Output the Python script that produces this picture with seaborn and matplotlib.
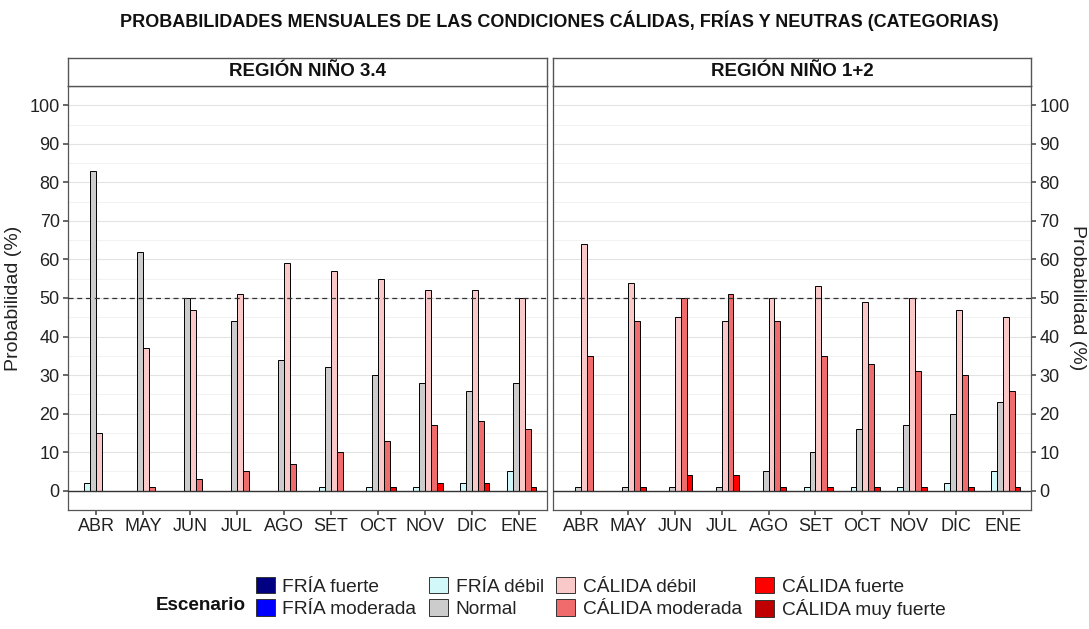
import numpy as np
import pandas as pd
import matplotlib
matplotlib.use("Agg")
import matplotlib.pyplot as plt
from matplotlib.patches import Patch
from matplotlib.ticker import MultipleLocator
import seaborn as sns

months = ["ABR", "MAY", "JUN", "JUL", "AGO", "SET", "OCT", "NOV", "DIC", "ENE"]
categories = ["FRÍA fuerte", "FRÍA moderada", "FRÍA débil", "Normal",
              "CÁLIDA débil", "CÁLIDA moderada", "CÁLIDA fuerte", "CÁLIDA muy fuerte"]
colors = ["#000080", "#0000FF", "#D2F8FA", "#CCCCCC",
          "#F9C8C8", "#F06B6B", "#FF0000", "#C00000"]
regions = ["REGIÓN NIÑO 3.4", "REGIÓN NIÑO 1+2"]

# Niño 3.4 values per category (in month order)
n34_fria_fuerte   = [0, 0, 0, 0, 0, 0, 0, 0, 0, 0]
n34_fria_moderada = [0, 0, 0, 0, 0, 0, 0, 0, 0, 0]
n34_fria_debil    = [2, 0, 0, 0, 0, 1, 1, 1, 2, 5]
n34_normal        = [83, 62, 50, 44, 34, 32, 30, 28, 26, 28]
n34_calida_debil  = [15, 37, 47, 51, 59, 57, 55, 52, 52, 50]
n34_calida_mod    = [0, 1, 3, 5, 7, 10, 13, 17, 18, 16]
n34_calida_fuerte = [0, 0, 0, 0, 0, 0, 1, 2, 2, 1]
n34_calida_muyf   = [0, 0, 0, 0, 0, 0, 0, 0, 0, 0]

# Niño 1+2 values per category
n12_fria_fuerte   = [0, 0, 0, 0, 0, 0, 0, 0, 0, 0]
n12_fria_moderada = [0, 0, 0, 0, 0, 0, 0, 0, 0, 0]
n12_fria_debil    = [0, 0, 0, 0, 0, 1, 1, 1, 2, 5]
n12_normal        = [1, 1, 1, 1, 5, 10, 16, 17, 20, 23]
n12_calida_debil  = [64, 54, 45, 44, 50, 53, 49, 50, 47, 45]
n12_calida_mod    = [35, 44, 50, 51, 44, 35, 33, 31, 30, 26]
n12_calida_fuerte = [0, 1, 4, 4, 1, 1, 1, 1, 1, 1]
n12_calida_muyf   = [0, 0, 0, 0, 0, 0, 0, 0, 0, 0]

series = {
    regions[0]: [n34_fria_fuerte, n34_fria_moderada, n34_fria_debil, n34_normal,
                 n34_calida_debil, n34_calida_mod, n34_calida_fuerte, n34_calida_muyf],
    regions[1]: [n12_fria_fuerte, n12_fria_moderada, n12_fria_debil, n12_normal,
                 n12_calida_debil, n12_calida_mod, n12_calida_fuerte, n12_calida_muyf],
}

rows = []
for reg, lists in series.items():
    for cat, vals in zip(categories, lists):
        for m, v in zip(months, vals):
            rows.append({"region": reg, "mes": m, "Escenario": cat, "prob": v})
df = pd.DataFrame(rows)

sns.set_theme(style="white")
plt.rcParams["font.family"] = ["Liberation Sans", "DejaVu Sans"]

palette = dict(zip(categories, colors))

fig = plt.figure(figsize=(10.89, 6.29), dpi=100)
W, H = 1089, 629

def fx(x):
    return x / W

def fy(y):
    return 1 - y / H

panels = [(68, 547), (553, 1031)]
top, bottom = 86, 510
TXT = "#222222"
for i, (reg, (x0, x1)) in enumerate(zip(regions, panels)):
    ax = fig.add_axes([fx(x0), fy(bottom), fx(x1 - x0), (bottom - top) / H])
    sub = df[df.region == reg]
    ax.yaxis.set_minor_locator(MultipleLocator(5))
    ax.set_axisbelow(True)
    ax.grid(True, which="major", color="#E3E3E3", linewidth=0.8)
    ax.grid(True, which="minor", axis="y", color="#F0F0F0", linewidth=0.6)
    sns.barplot(data=sub, x="mes", y="prob", hue="Escenario", order=months,
                hue_order=categories, palette=palette, width=1.0, dodge=True,
                edgecolor="black", linewidth=0.7, saturation=1, legend=False,
                errorbar=None, ax=ax, zorder=3)
    ax.axhline(0, color="#333333", linewidth=1.0, zorder=4)
    ax.axhline(50, color="#333333", linewidth=0.9, linestyle=(0, (4, 3)), zorder=4)
    ax.set_xlim(-0.6, len(months) - 0.4)
    ax.set_ylim(-5, 105)
    ax.set_yticks(np.arange(0, 101, 10))
    ax.set_xlabel("")
    for s in ax.spines.values():
        s.set_color("#555555")
        s.set_linewidth(0.9)
    ax.tick_params(axis="both", which="major", labelsize=13, length=3.5,
                   color="#555555", labelcolor=TXT, pad=2.5, bottom=True)
    ax.tick_params(axis="y", which="minor", length=0)
    if i == 0:
        ax.set_ylabel("Probabilidad (%)", fontsize=14, color=TXT, labelpad=5)
        ax.tick_params(axis="y", left=True, right=False, labelleft=True, labelright=False)
    else:
        ax.yaxis.set_label_position("right")
        ax.yaxis.tick_right()
        ax.set_ylabel("Probabilidad (%)", fontsize=14, color=TXT,
                      rotation=270, labelpad=12)
        ax.tick_params(axis="y", left=False, right=True, labelleft=False, labelright=True)

    # strip
    sax = fig.add_axes([fx(x0), fy(top), fx(x1 - x0), 28 / H])
    sax.set_xticks([])
    sax.set_yticks([])
    sax.set_facecolor("white")
    for s in sax.spines.values():
        s.set_color("#555555")
        s.set_linewidth(1.0)
    sax.text(0.5, 0.5, reg, ha="center", va="center", fontsize=13.5,
             fontweight="bold", color="#111111", transform=sax.transAxes)

fig.text(fx(559), fy(21), "PROBABILIDADES MENSUALES DE LAS CONDICIONES CÁLIDAS, FRÍAS Y NEUTRAS (CATEGORIAS)",
         ha="center", va="center", fontsize=13, fontweight="bold", color="#111111")

handles = [Patch(facecolor=c, edgecolor="#333333", linewidth=0.7, label=l)
           for l, c in zip(categories, colors)]
leg = fig.legend(handles=handles, ncol=4, loc="center left",
                 bbox_to_anchor=(fx(246), fy(598)), frameon=False, fontsize=13.8,
                 handlelength=1.0, handleheight=0.95, handletextpad=0.4,
                 columnspacing=0.65, labelspacing=0.18, borderpad=0)
for t in leg.get_texts():
    t.set_color(TXT)
fig.text(fx(156), fy(605), "Escenario", ha="left", va="center",
         fontsize=13.6, fontweight="bold", color="#111111")

fig.savefig("out.png", dpi=100, facecolor="white")
